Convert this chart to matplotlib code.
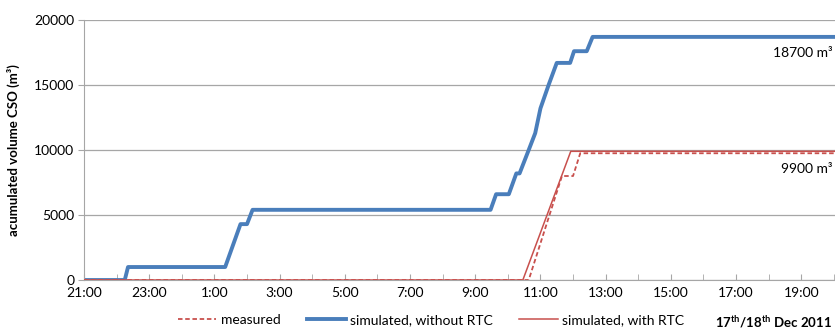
import matplotlib
matplotlib.use("Agg")
import matplotlib.pyplot as plt

plt.rcParams["font.family"] = ["Lato", "DejaVu Sans"]
plt.rcParams["mathtext.fontset"] = "custom"
plt.rcParams["mathtext.rm"] = "Lato"
plt.rcParams["mathtext.bf"] = "Lato:bold"

# hours after 21:00 on 17 Dec 2011
blue_t = [0, 1.25, 1.35, 4.33, 4.8, 5.0, 5.17, 12.47, 12.64, 13.03, 13.26, 13.36,
          13.64, 13.84, 14.0, 14.25, 14.5, 14.91, 15.03, 15.42, 15.6, 23.1]
blue_v = [0, 0, 1000, 1000, 4300, 4300, 5400, 5400, 6600, 6600, 8200, 8200,
          10000, 11300, 13200, 15000, 16700, 16700, 17600, 17600, 18700, 18700]

rtc_t = [0, 13.46, 14.93, 23.1]
rtc_v = [0, 0, 9900, 9900]

meas_t = [0, 13.64, 14.66, 15.0, 15.22, 23.1]
meas_v = [0, 0, 8000, 8000, 9750, 9750]

tick_pos = list(range(0, 23, 2))
tick_lbl = ["21:00", "23:00", "1:00", "3:00", "5:00", "7:00", "9:00",
            "11:00", "13:00", "15:00", "17:00", "19:00"]

BLUE = "#4a7ebb"
RED = "#c8504d"
GRID = "#a6a6a6"

fig = plt.figure(figsize=(8.35, 3.31), dpi=100)
ax = fig.add_axes([0.1006, 0.154, 0.9, 0.7856])

ax.plot(meas_t, meas_v, color=RED, lw=1.3, ls=(0, (2.5, 1.5)), label="measured", zorder=3)
ax.plot(blue_t, blue_v, color=BLUE, lw=2.8, label="simulated, without RTC", zorder=2)
ax.plot(rtc_t, rtc_v, color=RED, lw=1.1, label="simulated, with RTC", zorder=4)

ax.set_xlim(0, 23.05)
ax.set_ylim(0, 20000)
ax.set_yticks([0, 5000, 10000, 15000, 20000])
ax.set_xticks(tick_pos)
ax.set_xticklabels(tick_lbl)
ax.set_xticks(range(0, 24), minor=True)
ax.grid(axis="y", color=GRID, lw=0.9)
ax.set_axisbelow(True)

for s in ["top", "right"]:
    ax.spines[s].set_visible(False)
for s in ["left", "bottom"]:
    ax.spines[s].set_color(GRID)
ax.tick_params(axis="x", which="both", direction="in", length=4, color=GRID,
               labelsize=10, pad=5)
ax.tick_params(axis="y", length=4, color=GRID, labelsize=10, pad=3)

ax.set_ylabel("acumulated volume CSO (m³)", fontsize=9.5, fontweight="bold", labelpad=10)

# value labels at the right edge
fig.text(0.997, 0.84, "18700 m³", ha="right", va="center", fontsize=10)
fig.text(0.997, 0.49, "9900 m³", ha="right", va="center", fontsize=10)

ax.legend(loc="center", bbox_to_anchor=(0.516, 0.033), bbox_transform=fig.transFigure,
          ncol=3, frameon=False, fontsize=10, handlelength=2.8, columnspacing=1.9,
          handletextpad=0.3)

fig.text(0.997, 0.027, r"17$^{\mathbf{th}}$/18$^{\mathbf{th}}$ Dec 2011", ha="right",
         va="center", fontsize=9.5, fontweight="bold")

fig.savefig("out.png", dpi=100)
